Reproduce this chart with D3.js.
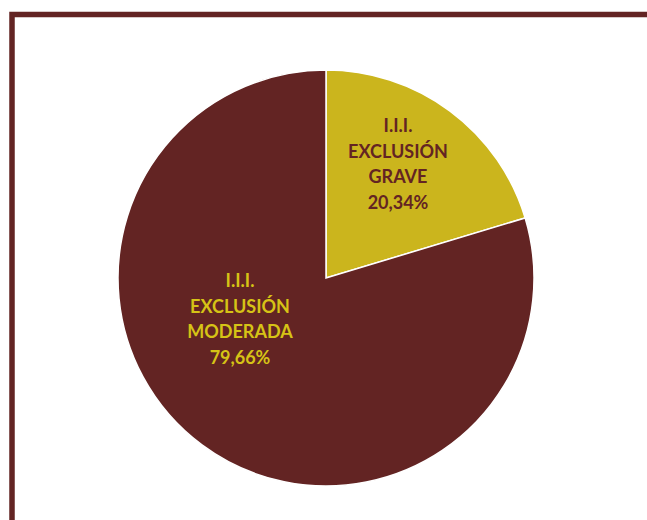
<!DOCTYPE html>
<html><head><meta charset="utf-8">
<script src="https://cdn.jsdelivr.net/npm/d3@7/dist/d3.min.js"></script>
<style>html,body{margin:0;padding:0;background:#fff;}svg{display:block;}</style>
</head><body>
<svg id="c" width="647" height="520"></svg>
<script>
const categories = ["I.I.I. EXCLUSIÓN GRAVE", "I.I.I. EXCLUSIÓN MODERADA"];
const values = [20.34, 79.66];
const labelLines = [["I.I.I.", "EXCLUSIÓN", "GRAVE", "20,34%"], ["I.I.I.", "EXCLUSIÓN", "MODERADA", "79,66%"]];
const sliceColors = ["#CBB51D", "#632423"];
const textColors = ["#632423", "#D6C316"];

const svg = d3.select("#c");
// frame
svg.append("rect").attr("x", 12).attr("y", 14.5).attr("width", 700).attr("height", 600)
  .attr("fill", "none").attr("stroke", "#632423").attr("stroke-width", 5.5);

const cx = 326, cy = 278, r = 208;
const g = svg.append("g").attr("transform", `translate(${cx},${cy})`);
const pie = d3.pie().sort(null).value(d => d)(values);
const arc = d3.arc().innerRadius(0).outerRadius(r);
g.selectAll("path.s").data(pie).enter().append("path")
  .attr("d", arc).attr("fill", (d, i) => sliceColors[i])
  .attr("stroke", "#fff").attr("stroke-width", 1.5);

const labelPos = [[72, -114], [-86, 41]];
pie.forEach((d, i) => {
  const t = g.append("text").attr("text-anchor", "middle")
    .attr("font-family", "Lato, 'Open Sans', sans-serif").attr("font-weight", "bold")
    .attr("font-size", 18).attr("fill", textColors[i]);
  const lines = labelLines[i];
  const lh = 25.5;
  lines.forEach((ln, j) => {
    t.append("tspan").attr("x", labelPos[i][0])
      .attr("y", labelPos[i][1] + (j - (lines.length - 1) / 2) * lh)
      .attr("dy", "0.35em").text(ln);
  });
});
</script>
</body></html>
